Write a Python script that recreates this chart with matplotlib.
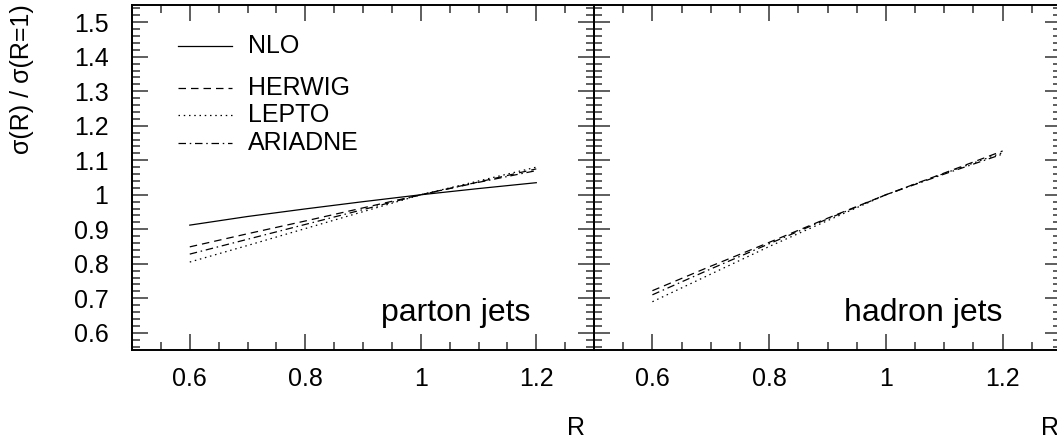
import numpy as np
import matplotlib
matplotlib.use("Agg")
import matplotlib.pyplot as plt
from matplotlib.ticker import MultipleLocator

plt.rcParams["font.family"] = ["Liberation Sans", "DejaVu Sans"]

# -------------------------
# DATA: jet-radius ratio sigma(R)/sigma(R=1)
# -------------------------
R = [0.6, 0.7, 0.8, 0.9, 1.0, 1.1, 1.2]

parton_nlo = [0.912, 0.937, 0.959, 0.980, 1.000, 1.018, 1.035]
parton_herwig = [0.849, 0.887, 0.924, 0.962, 1.000, 1.037, 1.075]
parton_lepto = [0.805, 0.853, 0.902, 0.951, 1.000, 1.040, 1.080]
parton_ariadne = [0.828, 0.871, 0.914, 0.957, 1.000, 1.036, 1.070]

hadron_herwig = [0.722, 0.793, 0.862, 0.932, 1.000, 1.063, 1.127]
hadron_lepto = [0.690, 0.770, 0.850, 0.925, 1.000, 1.062, 1.122]
hadron_ariadne = [0.710, 0.785, 0.858, 0.930, 1.000, 1.060, 1.118]

LABELS = ["NLO", "HERWIG", "LEPTO", "ARIADNE"]

STYLES = {
    "NLO": dict(linestyle="-"),
    "HERWIG": dict(linestyle=(0, (6, 4))),
    "LEPTO": dict(linestyle=(0, (1.2, 3))),
    "ARIADNE": dict(linestyle=(0, (6, 3, 1.2, 3))),
}

FS = 18

fig = plt.figure(figsize=(10.57, 4.4), dpi=100)
ax1 = fig.add_axes([0.1249, 0.2045, 0.4371, 0.7841])
ax2 = fig.add_axes([0.5620, 0.2045, 0.4418, 0.7841])


def style_axis(ax, left_labels):
    ax.set_xlim(0.5, 1.3)
    ax.set_ylim(0.55, 1.55)
    ax.xaxis.set_major_locator(MultipleLocator(0.2))
    ax.xaxis.set_minor_locator(MultipleLocator(0.05))
    ax.yaxis.set_major_locator(MultipleLocator(0.1))
    ax.yaxis.set_minor_locator(MultipleLocator(0.02))
    ax.tick_params(which="both", direction="in", top=True, right=True,
                   width=1.1, color="#333333")
    ax.tick_params(which="major", length=11.5)
    ax.tick_params(which="minor", length=5.8)
    ax.tick_params(axis="x", labelsize=FS, pad=12)
    ax.tick_params(axis="y", labelsize=FS, pad=17, labelleft=left_labels)
    ax.xaxis.set_major_formatter(lambda v, p: "1" if abs(v - 1) < 1e-9 else f"{v:.1f}")
    ax.yaxis.set_major_formatter(lambda v, p: "1" if abs(v - 1) < 1e-9 else f"{v:.1f}")
    for sp in ax.spines.values():
        sp.set_linewidth(1.4)
    ax.patch.set_alpha(0)


style_axis(ax1, True)
style_axis(ax2, False)

# parton level
for name, vals in zip(LABELS, [parton_nlo, parton_herwig, parton_lepto, parton_ariadne]):
    ax1.plot(R, vals, color="black", linewidth=0.9, label=name, **STYLES[name])

# hadron level
for name, vals in zip(LABELS[1:], [hadron_herwig, hadron_lepto, hadron_ariadne]):
    ax2.plot(R, vals, color="black", linewidth=0.9, **STYLES[name])

# legend drawn by hand so NLO sits apart from the MC models
leg_y = [1.43, 1.31, 1.23, 1.15]
for name, y in zip(LABELS, leg_y):
    ax1.plot([0.58, 0.673], [y, y], color="black", linewidth=0.9, **STYLES[name])
    ax1.text(0.70, y, name, fontsize=FS, va="center", ha="left")

ax1.text(1.19, 0.635, "parton jets", fontsize=23, ha="right", va="baseline")
ax2.text(1.20, 0.635, "hadron jets", fontsize=23, ha="right", va="baseline")

fig.text(0.545, 0.027, "R", fontsize=FS, ha="center", va="center")
fig.text(0.993, 0.027, "R", fontsize=FS, ha="center", va="center")
fig.text(0.021, 0.99, "σ(R) / σ(R=1)", fontsize=FS, rotation=90,
         ha="center", va="top")

fig.savefig("out.png", dpi=100)
